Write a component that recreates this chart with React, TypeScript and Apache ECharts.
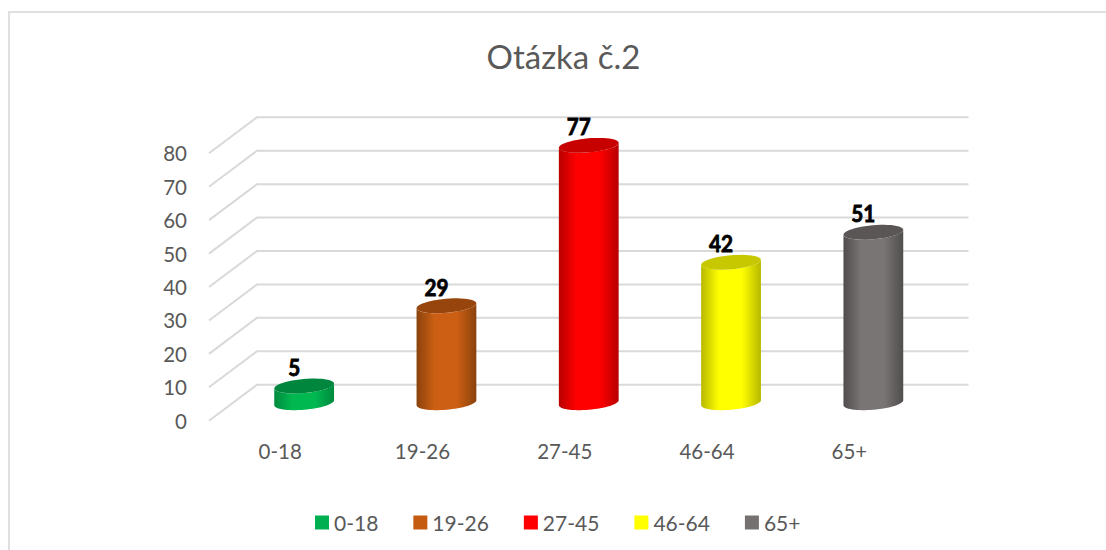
import React, { useEffect, useRef } from "react";
import * as echarts from "echarts";

const categories = ["0-18", "19-26", "27-45", "46-64", "65+"];
const values = [5, 29, 77, 42, 51];
const legendColors = ["#00B050", "#C55A11", "#FF0000", "#FFFF00", "#767171"];
const bodyColors = ["#00B850", "#CC5F14", "#FF0000", "#FFFF00", "#7A7575"];
const edgeColors = ["#008A3E", "#8A420C", "#B80000", "#B8B800", "#504D4D"];
const topColors = ["#00863D", "#97450D", "#C70000", "#C8C800", "#5A5656"];
const axisTicks = [0, 10, 20, 30, 40, 50, 60, 70, 80];
const titleText = "Otázka č.2";

const FONT = "Lato, Carlito, 'Open Sans', sans-serif";
const DX = 24;
const DY = -18;
const RX = 30;
const RY = 7;
const TILT = (-5 * Math.PI) / 180;

function ellipsePoint(cx: number, cy: number, t: number) {
  const c = Math.cos(TILT);
  const s = Math.sin(TILT);
  const ex = RX * Math.cos(t);
  const ey = RY * Math.sin(t);
  return [cx + ex * c - ey * s, cy + ex * s + ey * c];
}

function cylinder(seriesIndex: number) {
  return (params: any, api: any) => {
    const top = api.coord([api.value(0), api.value(1)]);
    const base = api.coord([api.value(0), 0]);
    const cx = top[0] + DX;
    const topY = top[1] + DY;
    const baseY = base[1] + DY;
    const t0 = Math.atan((-RY / RX) * Math.tan(TILT));
    const pts: number[][] = [];
    for (let k = 0; k <= 32; k++) {
      pts.push(ellipsePoint(cx, baseY, t0 + (Math.PI * k) / 32));
    }
    for (let k = 0; k <= 32; k++) {
      pts.push(ellipsePoint(cx, topY, t0 + Math.PI - (Math.PI * k) / 32));
    }
    const body = bodyColors[seriesIndex];
    const edge = edgeColors[seriesIndex];
    return {
      type: "group",
      children: [
        {
          type: "polygon",
          shape: { points: pts },
          style: {
            fill: new echarts.graphic.LinearGradient(0, 0, 1, 0, [
              { offset: 0, color: edge },
              { offset: 0.3, color: body },
              { offset: 0.68, color: body },
              { offset: 1, color: edge },
            ]),
          },
        },
        {
          type: "polygon",
          shape: {
            points: Array.from({ length: 48 }, (_, k) =>
              ellipsePoint(cx, topY, (2 * Math.PI * k) / 48)
            ),
          },
          style: { fill: topColors[seriesIndex] },
        },
        {
          type: "text",
          x: cx - 10,
          y: topY - 19,
          scaleX: 0.9,
          style: {
            text: String(api.value(1)),
            fill: "#000",
            stroke: "#000",
            lineWidth: 0.8,
            font: `bold 23px ${FONT}`,
            align: "center",
            verticalAlign: "middle",
          },
        },
      ],
    };
  };
}

function walls(params: any, api: any) {
  const p = api.coord([0, api.value(0)]);
  const x0 = params.coordSys.x;
  const x1 = x0 + params.coordSys.width;
  const y = p[1];
  const style = { stroke: "#D9D9D9", lineWidth: 2, fill: "none" };
  return {
    type: "polyline",
    shape: {
      points: [
        [x0, y],
        [x0 + 2 * DX, y + 2 * DY],
        [x1 + 2 * DX, y + 2 * DY],
      ],
    },
    style,
    silent: true,
  };
}

export default function App() {
  const ref = useRef<HTMLDivElement>(null);
  useEffect(() => {
    const chart = echarts.init(ref.current!, null, { renderer: "svg" });
    chart.setOption({
      animation: false,
      backgroundColor: "#fff",
      title: {
        text: titleText,
        left: 558.5,
        top: 34,
        textAlign: "center",
        textStyle: { color: "#595959", fontFamily: FONT, fontSize: 33, fontWeight: "normal" },
      },
      legend: {
        left: 310,
        top: 507,
        itemWidth: 14,
        itemHeight: 14,
        itemGap: 35,
        icon: "rect",
        data: categories,
        textStyle: { color: "#595959", fontFamily: FONT, fontSize: 21 },
      },
      grid: { left: 209, top: 153.3, width: 711.5, height: 267.4, containLabel: false },
      xAxis: {
        type: "category",
        data: categories,
        axisLine: { show: false },
        axisTick: { show: false },
        axisLabel: { color: "#595959", fontFamily: FONT, fontSize: 20.5, margin: 20 },
      },
      yAxis: {
        type: "value",
        min: 0,
        max: 80,
        interval: 10,
        axisLine: { show: false },
        axisTick: { show: false },
        splitLine: { show: false },
        axisLabel: { color: "#595959", fontFamily: FONT, fontSize: 20.5, margin: 22 },
      },
      graphic: [
        {
          type: "polyline",
          silent: true,
          shape: { points: [[9, 550], [9, 12], [1106, 12]] },
          style: { stroke: "#E0E0E0", lineWidth: 2, fill: "none" },
        },
      ],
      series: [
        {
          type: "custom",
          name: "walls",
          silent: true,
          z: 1,
          data: axisTicks.map((t) => [t]),
          encode: { y: 0 },
          renderItem: walls,
        },
        ...categories.map((name, i) => ({
          type: "custom",
          name,
          z: 2,
          itemStyle: { color: legendColors[i] },
          data: [[i, values[i]]],
          encode: { x: 0, y: 1 },
          renderItem: cylinder(i),
        })),
      ],
    });
    return () => chart.dispose();
  }, []);
  return <div ref={ref} style={{ position: "absolute", left: 0, top: 0, width: 1106, height: 550 }} />;
}
